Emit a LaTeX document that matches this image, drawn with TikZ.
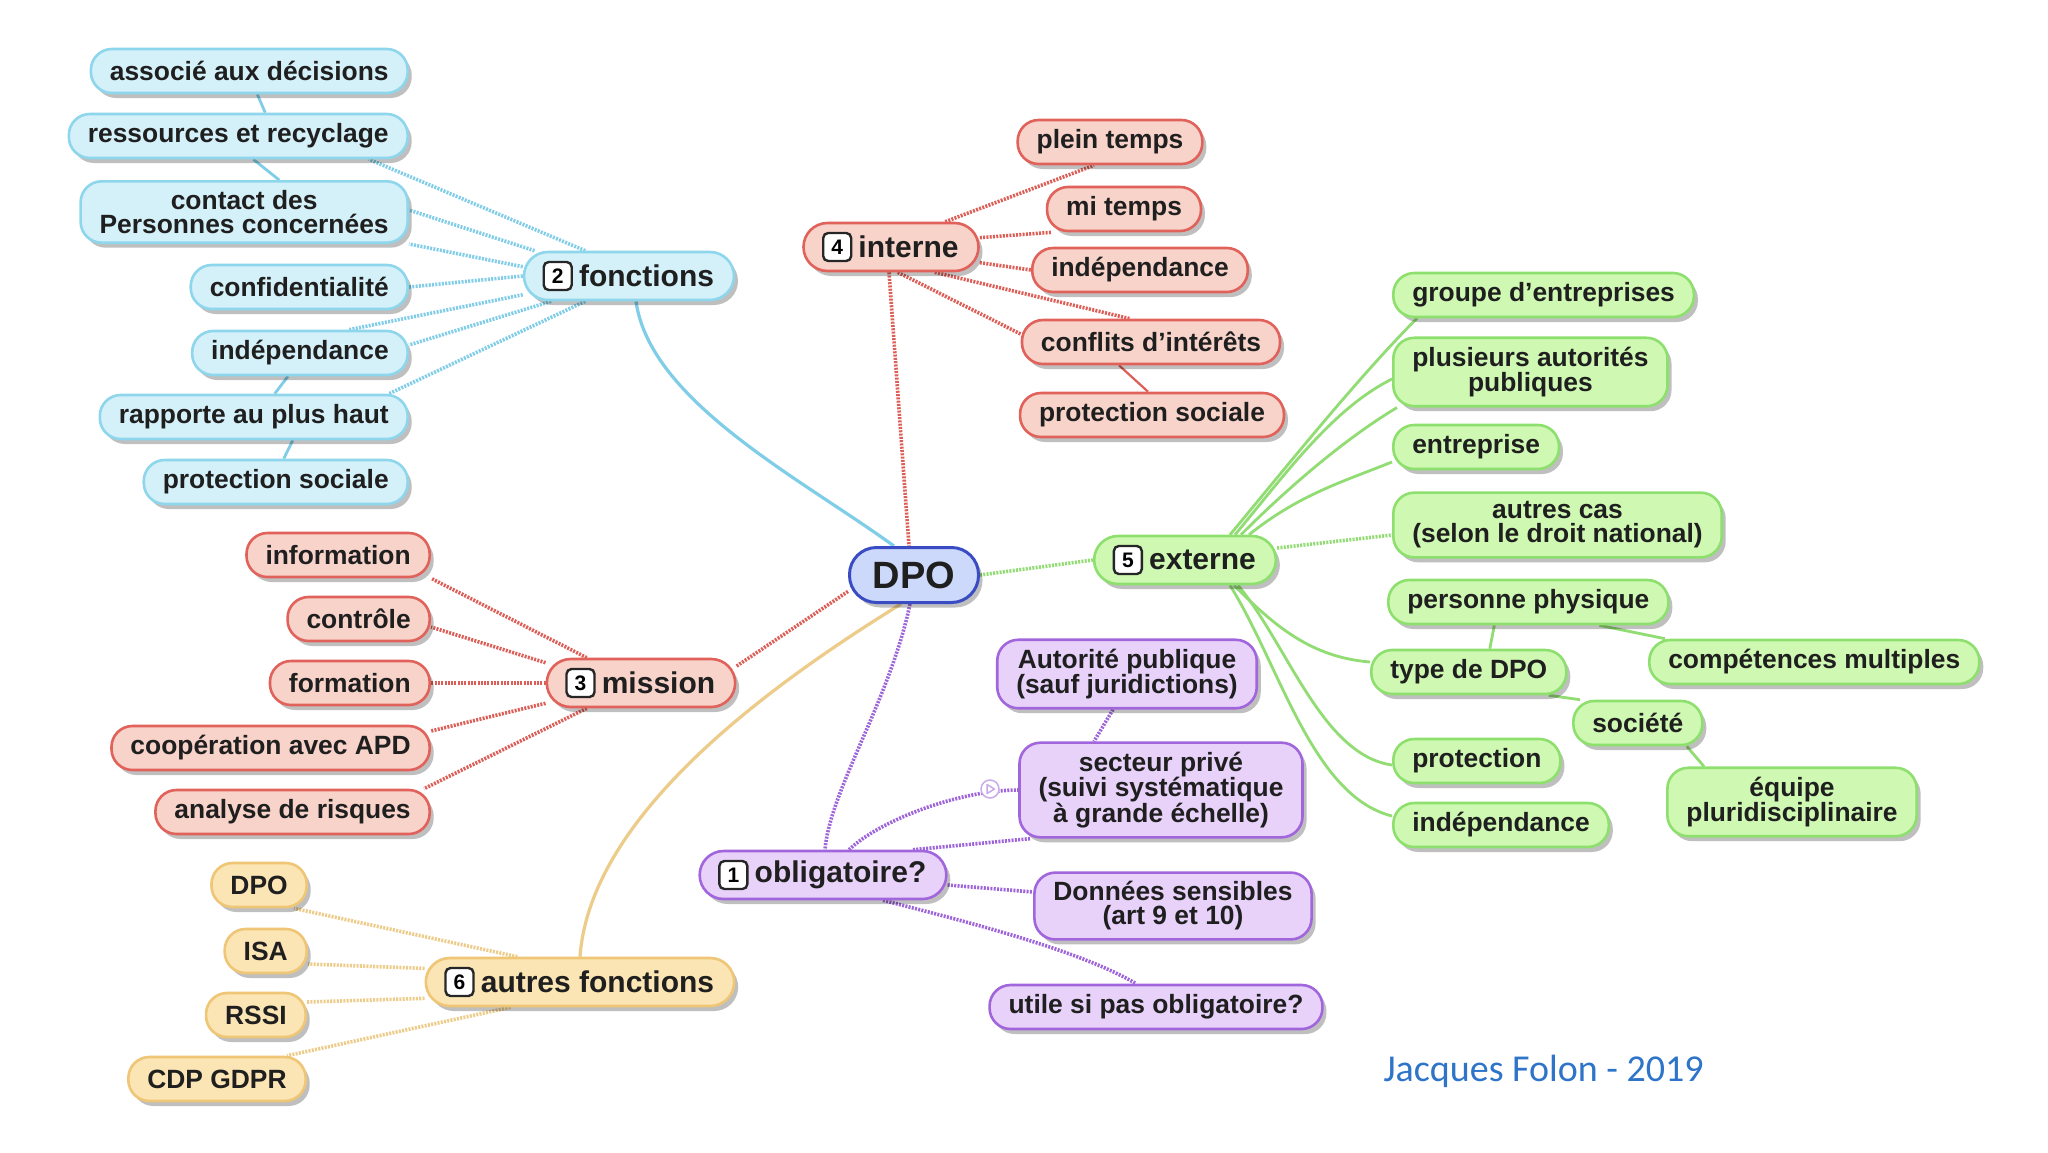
\documentclass[tikz,border=0pt]{standalone}
\usepackage{fontspec}
\setmainfont{Liberation Sans}
\newfontfamily\authorfont{Carlito}
\usetikzlibrary{shadows,backgrounds}
\definecolor{blF}{HTML}{D4F0F9}
\definecolor{blD}{HTML}{8ED6EC}
\definecolor{blL}{HTML}{80CDE8}
\definecolor{rdF}{HTML}{F8D3CA}
\definecolor{rdD}{HTML}{E0625A}
\definecolor{rdL}{HTML}{DC5E56}
\definecolor{grF}{HTML}{CFF8B2}
\definecolor{grD}{HTML}{8EE06E}
\definecolor{grL}{HTML}{92DC74}
\definecolor{orF}{HTML}{FBE5B4}
\definecolor{orD}{HTML}{EEC676}
\definecolor{orL}{HTML}{EDCB88}
\definecolor{puF}{HTML}{E8D2FA}
\definecolor{puD}{HTML}{A266DC}
\definecolor{puL}{HTML}{9E64DA}
\definecolor{dpF}{HTML}{CCD9FA}
\definecolor{dpD}{HTML}{3A4CC4}
\definecolor{auth}{HTML}{2E74C8}
\tikzset{
  leaf/.style={draw, line width=2.6pt, rounded corners=21pt, inner xsep=19pt, inner ysep=9pt,
    minimum height=44pt, align=center, font=\fontsize{26.4}{24}\selectfont\bfseries, text=black!88,
    drop shadow={shadow xshift=4pt, shadow yshift=-5pt, opacity=0.25, fill=black}},
  head/.style={leaf, rounded corners=24pt, minimum height=48pt, inner xsep=20pt,
    font=\fontsize{30}{30}\selectfont\bfseries},
  numbox/.style={draw=black!85, fill=white, line width=2.4pt, rounded corners=5pt,
    minimum width=28pt, minimum height=28pt, inner sep=0pt, font=\fontsize{21}{21}\selectfont\bfseries},
  bnode/.style={leaf, draw=blD, fill=blF},
  rnode/.style={leaf, draw=rdD, fill=rdF},
  gnode/.style={leaf, draw=grD, fill=grF},
  onode/.style={leaf, draw=orD, fill=orF},
  pnode/.style={leaf, draw=puD, fill=puF},
  dots/.style={line width=3.6pt, dash pattern=on 2pt off 1.3pt},
  link/.style={line width=2.8pt},
}
\begin{document}
\begin{tikzpicture}[x=1pt,y=-1pt]
\useasboundingbox (0,0) rectangle (2048,1152);

% centre
\node[head, draw=dpD, fill=dpF, rounded corners=27pt, minimum height=55pt, minimum width=129pt,
  line width=3pt, font=\fontsize{38}{38}\selectfont\bfseries] (dpo) at (914,575) {DPO};

% 2 fonctions
\node[head, draw=blD, fill=blF] (fonc) at (629,276) {\hspace*{35pt}fonctions};
\node[numbox] (n2) at ([xshift=35pt]fonc.west) {2};
\node[bnode, anchor=east] (f1) at (409,71) {associé aux décisions};
\node[bnode, anchor=east] (f2) at (409,136) {ressources et recyclage};
\node[bnode, anchor=east] (f3) at (409,212) {contact des\\Personnes concernées};
\node[bnode, anchor=east] (f4) at (409,287) {confidentialité};
\node[bnode, anchor=east] (f5) at (409,353) {indépendance};
\node[bnode, anchor=east] (f6) at (409,417) {rapporte au plus haut};
\node[bnode, anchor=east] (f7) at (409,482) {protection sociale};

% 4 interne
\node[head, draw=rdD, fill=rdF] (interne) at (891,247) {\hspace*{35pt}interne};
\node[numbox] (n4) at ([xshift=35pt]interne.west) {4};
\node[rnode] (i1) at (1110,142) {plein temps};
\node[rnode] (i2) at (1124,209) {mi temps};
\node[rnode] (i3) at (1140,270) {indépendance};
\node[rnode] (i4) at (1151,342) {conflits d'intérêts};
\node[rnode] (i5) at (1152,415) {protection sociale};

% 3 mission
\node[head, draw=rdD, fill=rdF] (mission) at (641,683) {\hspace*{35pt}mission};
\node[numbox] (n3) at ([xshift=35pt]mission.west) {3};
\node[rnode, anchor=east] (m1) at (431,555) {information};
\node[rnode, anchor=east] (m2) at (431,619) {contrôle};
\node[rnode, anchor=east] (m3) at (431,683) {formation};
\node[rnode, anchor=east] (m4) at (431,748) {coopération avec APD};
\node[rnode, anchor=east] (m5) at (431,812) {analyse de risques};

% 6 autres fonctions
\node[head, draw=orD, fill=orF] (autres) at (580,982) {\hspace*{35pt}autres fonctions};
\node[numbox] (n6) at ([xshift=35pt]autres.west) {6};
\node[onode, anchor=east] (a1) at (308,885) {DPO};
\node[onode, anchor=east] (a2) at (308,951) {ISA};
\node[onode, anchor=east] (a3) at (307,1015) {RSSI};
\node[onode, anchor=east] (a4) at (307,1079) {CDP GDPR};

% 1 obligatoire
\node[head, draw=puD, fill=puF] (oblig) at (823,875) {\hspace*{35pt}obligatoire?};
\node[numbox] (n1) at ([xshift=35pt]oblig.west) {1};
\node[pnode] (p1) at (1127,674) {Autorité publique\\(sauf juridictions)};
\node[pnode] (p2) at (1161,790) {secteur privé\\(suivi systématique\\à grande échelle)};
\node[pnode] (p3) at (1173,906) {Données sensibles\\(art 9 et 10)};
\node[pnode] (p4) at (1156,1007) {utile si pas obligatoire?};

% 5 externe
\node[head, draw=grD, fill=grF] (ext) at (1185,560) {\hspace*{35pt}externe};
\node[numbox] (n5) at ([xshift=35pt]ext.west) {5};
\node[gnode, anchor=west] (g1) at (1392,295) {groupe d'entreprises};
\node[gnode, anchor=west] (g2) at (1392,372) {plusieurs autorités\\publiques};
\node[gnode, anchor=west] (g3) at (1392,447) {entreprise};
\node[gnode, anchor=west] (g4) at (1392,525) {autres cas\\(selon le droit national)};
\node[gnode, anchor=west] (g5) at (1387,602) {personne physique};
\node[gnode, anchor=west] (g6) at (1370,672) {type de DPO};
\node[gnode, anchor=west] (g7) at (1648,662) {compétences multiples};
\node[gnode, anchor=west] (g8) at (1572,723) {société};
\node[gnode, anchor=west] (g9) at (1392,761) {protection};
\node[gnode] (g10) at (1792,802) {équipe\\pluridisciplinaire};
\node[gnode, anchor=west] (g11) at (1392,825) {indépendance};

% author
\node[anchor=west, font=\authorfont\fontsize{38}{38}\selectfont, text=auth] (author) at (1380,1071) {Jacques Folon - 2019};

\begin{pgfonlayer}{background}
\fill[white] (0,0) rectangle (2048,1152);
% blue
\draw[blL, dots] (fonc.150) -- ([xshift=-40pt]f2.south east);
\draw[blL, dots] (fonc.165) -- ([yshift=2pt]f3.east);
\draw[blL, dots] (fonc.175) -- (f3.south east);
\draw[blL, dots] (fonc.west) -- (f4.east);
\draw[blL, dots] (fonc.190) -- ([xshift=-60pt]f5.north east);
\draw[blL, dots] (fonc.198) -- ([yshift=8pt]f5.east);
\draw[blL, dots] (fonc.210) -- ([xshift=-20pt]f6.north east);
\draw[blL, link] ([xshift=8pt]f1.south) -- ([xshift=27pt]f2.north);
\draw[blL, link] ([xshift=15pt]f2.south) -- ([xshift=35pt]f3.north);
\draw[blL, link] ([xshift=-12pt]f5.south) -- ([xshift=21pt]f6.north);
\draw[blL, link] ([xshift=39pt]f6.south) -- ([xshift=8pt]f7.north);
\draw[blL, link, line width=3.2pt] ([xshift=7pt]fonc.south) .. controls +(14,100) and +(-94,-68) .. ([xshift=-20pt]dpo.north);
% interne
\draw[rdL, dots] (interne.25) -- ([xshift=-16pt]i1.south);
\draw[rdL, dots] (interne.6) -- ([xshift=6pt]i2.south west);
\draw[rdL, dots] (interne.-10) -- (i3.west);
\draw[rdL, dots] (interne.-30) -- ([xshift=-21pt]i4.north);
\draw[rdL, dots] (interne.-75) -- ([yshift=8pt]i4.west);
\draw[rdL, link, line width=2.2pt] ([xshift=-32pt]i4.south) -- ([xshift=-4pt]i5.north);
\draw[rdL, dots] ([xshift=-2pt]interne.south) -- ([xshift=-5pt]dpo.north);
% dpo links
\draw[grL, dots] (dpo.east) -- (ext.west);
\draw[rdL, dots] (dpo.194) -- (mission.10);
\draw[orL, link, line width=3.2pt] (autres.north) .. controls +(10,-138) and +(-141,87) .. ([xshift=-13pt]dpo.south);
\draw[puL, dots] ([xshift=-4pt]dpo.south) .. controls (890,700) and (830,790) .. ([xshift=2pt]oblig.north);
% mission
\draw[rdL, dots] (mission.155) -- (m1.south east);
\draw[rdL, dots] (mission.168) -- ([yshift=-8pt]m2.east);
\draw[rdL, dots] (mission.west) -- (m3.east);
\draw[rdL, dots] (mission.192) -- ([yshift=17pt]m4.east);
\draw[rdL, dots] (mission.205) -- ([xshift=-7pt]m5.north east);
% autres
\draw[orL, dots] (autres.158) -- ([xshift=-14pt]a1.south east);
\draw[orL, dots] (autres.175) -- ([yshift=-13pt]a2.east);
\draw[orL, dots] (autres.186) -- ([yshift=13pt]a3.east);
\draw[orL, dots] (autres.200) -- ([xshift=-20pt]a4.north east);
% obligatoire
\draw[puL, dots] ([xshift=26pt]oblig.north) .. controls (880,820) and (960,790) .. (p2.west);
\draw[puL, dots] ([xshift=90pt]oblig.north) -- ([xshift=12pt]p2.south west);
\draw[puL, dots] ([xshift=-14pt]p1.south) -- ([xshift=-67pt]p2.north);
\draw[puL, dots] ([yshift=-10pt]oblig.east) -- ([yshift=14pt]p3.west);
\draw[puL, dots] ([xshift=60pt]oblig.south) .. controls (960,920) and (1080,950) .. ([xshift=-20pt]p4.north);
% externe
\draw[grL, link] ([xshift=45pt]ext.north) .. controls +(50,-60) and +(-60,60) .. ([xshift=25pt]g1.south west);
\draw[grL, link] ([xshift=50pt]ext.north) .. controls +(50,-60) and +(-60,30) .. ([yshift=-7pt]g2.west);
\draw[grL, link] ([xshift=56pt]ext.north) .. controls +(50,-50) and +(-50,30) .. ([xshift=5pt]g2.south west);
\draw[grL, link] ([xshift=64pt]ext.north) .. controls +(50,-40) and +(-50,20) .. ([yshift=-15pt]g3.west);
\draw[grL, dots] ([yshift=12pt]ext.east) -- ([yshift=-10pt]g4.west);
\draw[grL, link] ([xshift=49pt]ext.south) .. controls +(40,40) and +(-60,-5) .. ([yshift=10pt]g6.west);
\draw[grL, link] ([xshift=53pt]ext.south) .. controls +(50,60) and +(-70,-10) .. ([yshift=-4pt]g9.west);
\draw[grL, link] ([xshift=45pt]ext.south) .. controls +(50,80) and +(-80,-20) .. ([yshift=9pt]g11.west);
\draw[grL, link] ([xshift=-34pt]g5.south) -- ([xshift=21pt]g6.north);
\draw[grL, link] ([xshift=71pt]g5.south) -- ([xshift=17pt]g7.north west);
\draw[grL, link] ([xshift=80pt]g6.south) -- ([xshift=8pt]g8.north west);
\draw[grL, link] ([xshift=49pt]g8.south) -- ([xshift=-88pt]g10.north);
\end{pgfonlayer}

% play icon
\node[circle, draw=puL!55, fill=white, line width=1.5pt, minimum size=18pt, inner sep=0pt] (play) at (990,789) {};
\draw[puL!55, line width=1.5pt, line join=round] ([xshift=-3pt,yshift=4.5pt]play.center) -- ([xshift=4.5pt]play.center) -- ([xshift=-3pt,yshift=-4.5pt]play.center) -- cycle;
\end{tikzpicture}
\end{document}
